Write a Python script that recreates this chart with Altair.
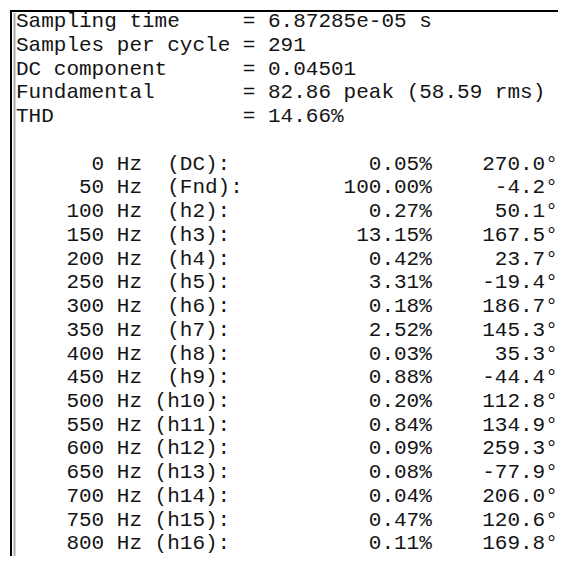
import altair as alt
import pandas as pd

# ---- data ----
header_labels = ["Sampling time", "Samples per cycle", "DC component", "Fundamental", "THD"]
header_values = ["6.87285e-05 s", "291", "0.04501", "82.86 peak (58.59 rms)", "14.66%"]

freqs = [0, 50, 100, 150, 200, 250, 300, 350, 400, 450, 500, 550, 600, 650, 700, 750, 800]
orders = ["DC", "Fnd", "h2", "h3", "h4", "h5", "h6", "h7", "h8", "h9",
          "h10", "h11", "h12", "h13", "h14", "h15", "h16"]
mag_pct = [0.05, 100.00, 0.27, 13.15, 0.42, 3.31, 0.18, 2.52, 0.03, 0.88,
           0.20, 0.84, 0.09, 0.08, 0.04, 0.47, 0.11]
phase_deg = [270.0, -4.2, 50.1, 167.5, 23.7, -19.4, 186.7, 145.3, 35.3, -44.4,
             112.8, 134.9, 259.3, -77.9, 206.0, 120.6, 169.8]

NB = "\u00a0"

hdr = pd.DataFrame({
    "row": list(range(len(header_labels))),
    "label": header_labels,
    "value": ["= " + v for v in header_values],
})


def hz_part(o):
    lab = f"({o}):"
    if not (o.startswith("h") and len(o) >= 3):
        lab = " " + lab
    return f"Hz {lab}".replace(" ", NB)


tbl = pd.DataFrame({
    "row": [6 + i for i in range(len(freqs))],
    "freq": [str(f) for f in freqs],
    "hz": [hz_part(o) for o in orders],
    "pct": [f"{p:.2f}%" for p in mag_pct],
    "phase": [f"{d:.1f}°" for d in phase_deg],
})

W, H = 550, 548
xs = alt.Scale(domain=[-0.635, 43.016], nice=False, zero=False)
ys = alt.Scale(domain=[-0.813, 22.28], reverse=True, nice=False, zero=False)

txt = dict(font="Liberation Mono", fontSize=21, baseline="alphabetic", color="#141414")

y_enc = alt.Y("row:Q", scale=ys, axis=None)


def xd(c):
    return alt.XDatum(c, type="quantitative", scale=xs, axis=None)


hdr_lab = alt.Chart(hdr).mark_text(align="left", **txt).encode(x=xd(0), y=y_enc, text="label:N")
hdr_val = alt.Chart(hdr).mark_text(align="left", **txt).encode(x=xd(18), y=y_enc, text="value:N")

t_freq = alt.Chart(tbl).mark_text(align="right", **txt).encode(x=xd(7), y=y_enc, text="freq:N")
t_hz = alt.Chart(tbl).mark_text(align="left", **txt).encode(x=xd(8), y=y_enc, text="hz:N")
t_pct = alt.Chart(tbl).mark_text(align="right", **txt).encode(x=xd(33), y=y_enc, text="pct:N")
t_ph = alt.Chart(tbl).mark_text(align="right", **txt).encode(x=xd(43), y=y_enc, text="phase:N")

one = pd.DataFrame({"k": [0]})
top_line = alt.Chart(one).mark_rule(color="#000000", strokeWidth=2).encode(
    x=alt.value(2), x2=alt.value(W), y=alt.value(3))
left_line = alt.Chart(one).mark_rule(color="#000000", strokeWidth=2).encode(
    x=alt.value(3), y=alt.value(2), y2=alt.value(H))
grey_line = alt.Chart(one).mark_rule(color="#a3abb3", strokeWidth=2).encode(
    x=alt.value(6.5), y=alt.value(5), y2=alt.value(H))

chart = alt.layer(
    top_line, left_line, grey_line, hdr_lab, hdr_val, t_freq, t_hz, t_pct, t_ph
).properties(
    width=W, height=H, padding=0,
    autosize=alt.AutoSizeParams(type="none"),
    background="white",
).configure_view(stroke=None)

chart.save("out.html", embed_options={"renderer": "svg", "actions": False})
